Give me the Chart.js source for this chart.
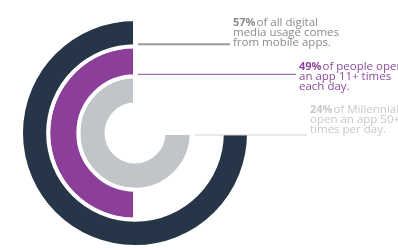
<!DOCTYPE html>
<html>
<head>
<meta charset="utf-8">
<script src="https://cdn.jsdelivr.net/npm/chart.js@4.4.1/dist/chart.umd.min.js"></script>
<style>
  html, body { margin: 0; padding: 0; background: #ffffff; }
  #wrap { position: relative; width: 398px; height: 250px; overflow: hidden; }
</style>
</head>
<body>
<div id="wrap"><canvas id="rings" width="398" height="250"></canvas></div>
<script>
// data z obrázku
const ringNames = ["Mobile apps", "Open app 11+ times", "Millennials 50+ times"];
const percents = [57, 49, 24];
const ringShares = [75, 50, 75]; // kolik procent kruhu prstenec zabírá
const notes = [
  ["of all digital", "media usage comes", "from mobile apps."],
  ["of people open", "an app 11+ times", "each day."],
  ["of Millennials", "open an app 50+", "times per day."]
];

const ringColors = ["#263547", "#8b3f98", "#c1c5c9"];
const textColors = ["#8a8a8a", "#8b4a9c", "#c8c8c8"];
const lineColors = ["#9a9a9a", "#a070ad", "#d2d2d2"];
const ringWeights = [27, 30, 28];

// rozložení popisků
const textX = [233, 299, 310];
const textY = [26, 70, 113];
const lineH = 9.8;

const datasets = ringNames.map((name, i) => ({
  label: name,
  data: [100 - ringShares[i], ringShares[i]],
  backgroundColor: ["rgba(0,0,0,0)", ringColors[i]],
  borderColor: "#ffffff",
  borderWidth: [0, 4],
  weight: ringWeights[i],
  hoverOffset: 0,
}));

//plugin pro spojovací čáry a texty
const notesPlugin = {
  id: "notes",
  afterDraw(chart) {
    const ctx = chart.ctx;
    ctx.save();
    chart.data.datasets.forEach((ds, i) => {
      const arc = chart.getDatasetMeta(i).data[1];
      const cx = arc.x, cy = arc.y;
      let x0, y0;
      if (i < 2) {
        x0 = cx + 3;
        y0 = cy - arc.innerRadius - 2;
      } else {
        x0 = cx + arc.outerRadius + 3;
        y0 = cy + 2;
      }
      ctx.strokeStyle = lineColors[i];
      ctx.lineWidth = i === 0 ? 2 : 1.2;
      ctx.beginPath();
      ctx.moveTo(x0, y0);
      ctx.lineTo(textX[i] - 3, y0);
      ctx.stroke();

      ctx.fillStyle = textColors[i];
      ctx.textBaseline = "alphabetic";
      ctx.font = "bold 11px 'Open Sans'";
      const pct = percents[i] + "%";
      ctx.fillText(pct, textX[i], textY[i]);
      const w = ctx.measureText(pct).width;
      ctx.font = "11.5px 'Open Sans'";
      ctx.fillText(notes[i][0], textX[i] + w + 1, textY[i]);
      for (let k = 1; k < notes[i].length; k++) {
        ctx.fillText(notes[i][k], textX[i], textY[i] + k * lineH);
      }
    });
    ctx.restore();
  },
};

new Chart(document.getElementById("rings"), {
  type: "doughnut",
  data: { labels: ["", ""], datasets },
  options: {
    responsive: false,
    animation: false,
    cutout: "25%",
    layout: { padding: { left: 19, top: 17, right: 147, bottom: 1 } },
    plugins: {
      legend: { display: false },
      tooltip: { enabled: false },
    },
  },
  plugins: [notesPlugin],
});
</script>
</body>
</html>
